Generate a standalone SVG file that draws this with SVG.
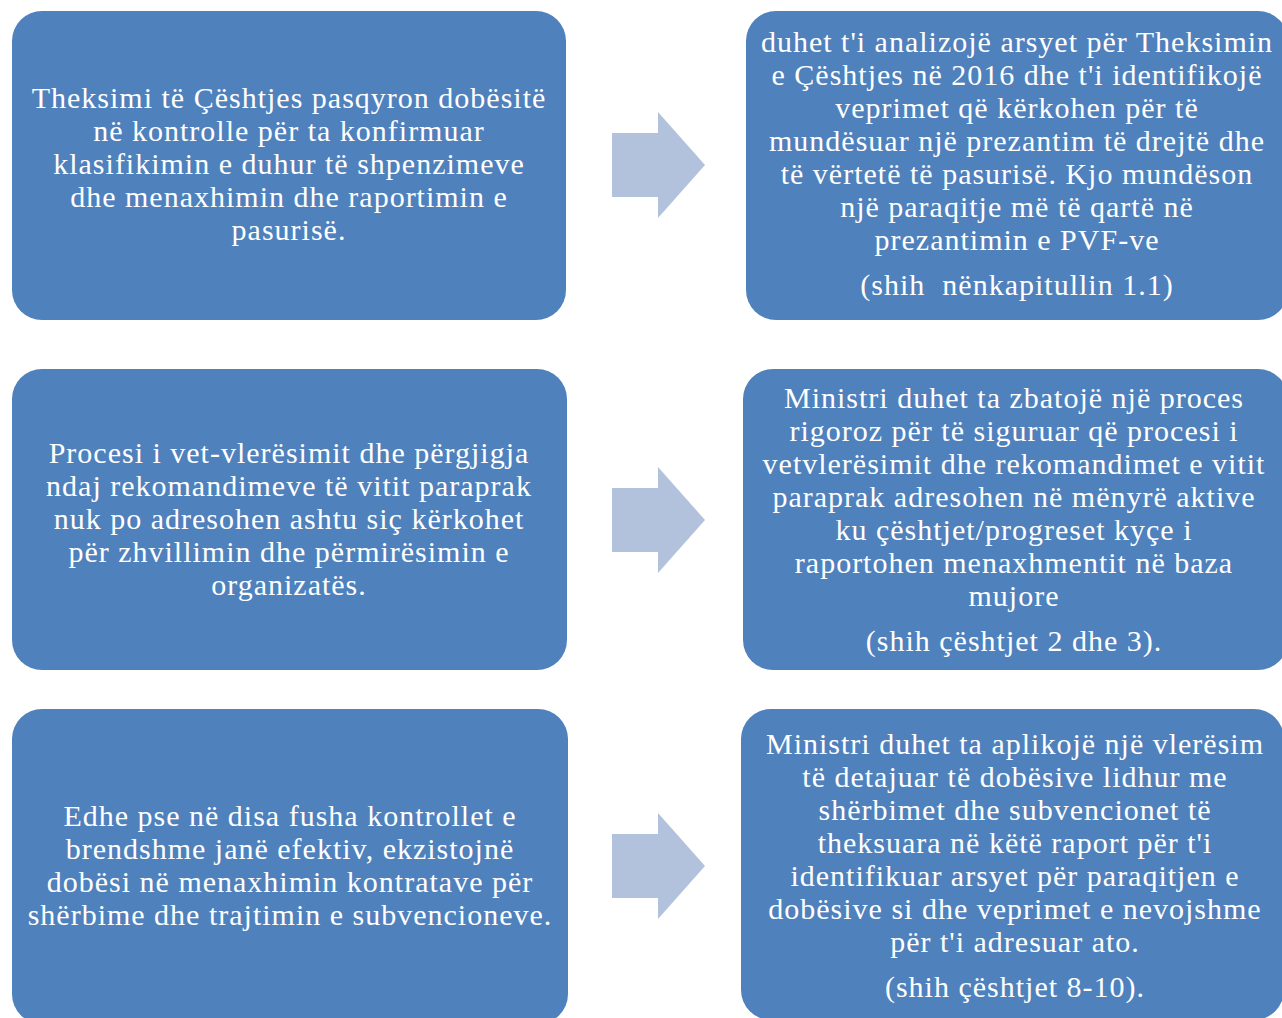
<svg xmlns="http://www.w3.org/2000/svg" width="1282" height="1018" viewBox="0 0 1282 1018">
<style>
.box{fill:#4F81BD;}
.arr{fill:#B3C2DC;}
text{font-family:"Liberation Serif","DejaVu Serif",serif;font-size:30px;letter-spacing:1px;fill:#FFFFFF;text-anchor:middle;}
</style>
<rect width="1282" height="1018" fill="#FFFFFF"/>
<g id="connectors">
<path class="arr" d="M612,133 H658 V112 L705,165 L658,218 V197 H612 Z"/>
<path class="arr" d="M612,488 H658 V467 L705,520 L658,573 V552 H612 Z"/>
<path class="arr" d="M612,834 H658 V813 L705,866 L658,919 V898 H612 Z"/>
</g>
<g id="node1">
<rect class="box" x="12" y="11" width="554" height="309" rx="30"/>
<text x="289" y="108">Theksimi të Çështjes pasqyron dobësitë</text>
<text x="289" y="141">në kontrolle për ta konfirmuar</text>
<text x="289" y="174">klasifikimin e duhur të shpenzimeve</text>
<text x="289" y="207">dhe menaxhimin dhe raportimin e</text>
<text x="289" y="240">pasurisë.</text>
</g>
<g id="node2">
<rect class="box" x="746" y="11" width="542" height="309" rx="30"/>
<text x="1017" y="52">duhet t'i analizojë arsyet për Theksimin</text>
<text x="1017" y="85">e Çështjes në 2016 dhe t'i identifikojë</text>
<text x="1017" y="118">veprimet që kërkohen për të</text>
<text x="1017" y="151">mundësuar një prezantim të drejtë dhe</text>
<text x="1017" y="184">të vërtetë të pasurisë. Kjo mundëson</text>
<text x="1017" y="217">një paraqitje më të qartë në</text>
<text x="1017" y="250">prezantimin e PVF-ve</text>
<text x="1017" y="295" xml:space="preserve">(shih  nënkapitullin 1.1)</text>
</g>
<g id="node3">
<rect class="box" x="12" y="369" width="555" height="301" rx="30"/>
<text x="289" y="463">Procesi i vet-vlerësimit dhe përgjigja</text>
<text x="289" y="496">ndaj rekomandimeve të vitit paraprak</text>
<text x="289" y="529">nuk po adresohen ashtu siç kërkohet</text>
<text x="289" y="562">për zhvillimin dhe përmirësimin e</text>
<text x="289" y="595">organizatës.</text>
</g>
<g id="node4">
<rect class="box" x="743" y="369" width="545" height="301" rx="30"/>
<text x="1014" y="408">Ministri duhet ta zbatojë një proces</text>
<text x="1014" y="441">rigoroz për të siguruar që procesi i</text>
<text x="1014" y="474">vetvlerësimit dhe rekomandimet e vitit</text>
<text x="1014" y="507">paraprak adresohen në mënyrë aktive</text>
<text x="1014" y="540">ku çështjet/progreset kyçe i</text>
<text x="1014" y="573">raportohen menaxhmentit në baza</text>
<text x="1014" y="606">mujore</text>
<text x="1014" y="651">(shih çështjet 2 dhe 3).</text>
</g>
<g id="node5">
<rect class="box" x="12" y="709" width="556" height="315" rx="30"/>
<text x="290" y="826">Edhe pse në disa fusha kontrollet e</text>
<text x="290" y="859">brendshme janë efektiv, ekzistojnë</text>
<text x="290" y="892">dobësi në menaxhimin kontratave për</text>
<text x="290" y="925">shërbime dhe trajtimin e subvencioneve.</text>
</g>
<g id="node6">
<rect class="box" x="741" y="709" width="543" height="311" rx="30"/>
<text x="1015" y="754">Ministri duhet ta aplikojë një vlerësim</text>
<text x="1015" y="787">të detajuar të dobësive lidhur me</text>
<text x="1015" y="820">shërbimet dhe subvencionet të</text>
<text x="1015" y="853">theksuara në këtë raport për t'i</text>
<text x="1015" y="886">identifikuar arsyet për paraqitjen e</text>
<text x="1015" y="919">dobësive si dhe veprimet e nevojshme</text>
<text x="1015" y="952">për t'i adresuar ato.</text>
<text x="1015" y="997">(shih çështjet 8-10).</text>
</g>
</svg>
